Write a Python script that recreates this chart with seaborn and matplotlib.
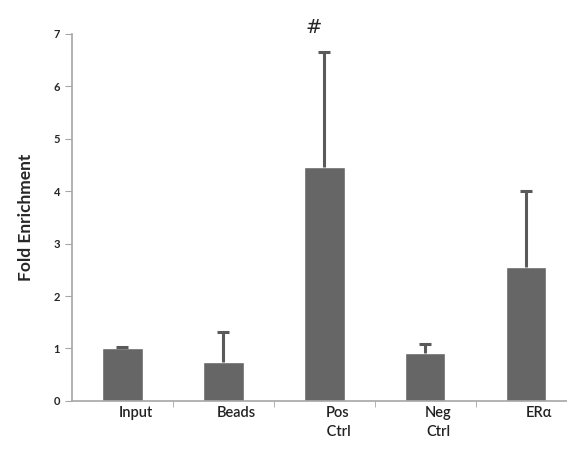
import numpy as np
import pandas as pd
import seaborn as sns
import matplotlib.pyplot as plt
import matplotlib.transforms as mtransforms

categories = ['Input', 'Beads', 'Pos\n Ctrl', 'Neg\nCtrl', 'ERα']
values = [1.0, 0.75, 4.47, 0.92, 2.56]
errors = [0.02, 0.57, 2.18, 0.17, 1.45]

df = pd.DataFrame({'group': categories, 'fold': values})

sns.set_style('white')
plt.rcParams['font.family'] = ['Lato', 'DejaVu Sans']

fig = plt.figure(figsize=(5.67, 4.53), dpi=100)
ax = fig.add_axes([0.127, 0.115, 0.89, 0.81])

sns.barplot(data=df, x='group', y='fold', color='#666666', width=0.4,
            saturation=1, errorbar=None, ax=ax)
# upper error only
eb = ax.errorbar(np.arange(len(values)), values,
                 yerr=[np.zeros(len(errors)), errors],
                 fmt='none', ecolor='#5a5a5a', elinewidth=2.2, capsize=4, capthick=2.2)
eb[1][0].set_visible(False)

ax.set_xlim(-0.5, 4.5)
ax.set_ylim(0, 7)
ax.set_yticks(range(8))
ax.set_xlabel('')
ax.set_ylabel('Fold Enrichment', fontsize=12.5, fontweight='bold', labelpad=14)

for side in ['top', 'right']:
    ax.spines[side].set_visible(False)
for side in ['left', 'bottom']:
    ax.spines[side].set_color('#a6a6a6')
    ax.spines[side].set_linewidth(1.2)

ax.tick_params(axis='y', direction='out', length=5, color='#a6a6a6', labelsize=8, left=True)
ax.tick_params(axis='x', length=0, labelsize=10.5, colors='#222222')
ax.set_xticks(np.arange(0.5, 4.5, 1), minor=True)
ax.tick_params(axis='x', which='minor', direction='out', length=4, color='#a6a6a6', bottom=True)
for t in ax.get_yticklabels():
    t.set_fontweight('bold')

offset = mtransforms.ScaledTranslation(0.13, 0, fig.dpi_scale_trans)
for t in ax.get_xticklabels():
    t.set_transform(t.get_transform() + offset)
    t.set_fontweight('semibold')
    t.set_linespacing(1.5)

fig.text(0.553, 0.94, '#', fontsize=14, family='DejaVu Sans', ha='center', va='center')

fig.savefig('out.png', dpi=100)
